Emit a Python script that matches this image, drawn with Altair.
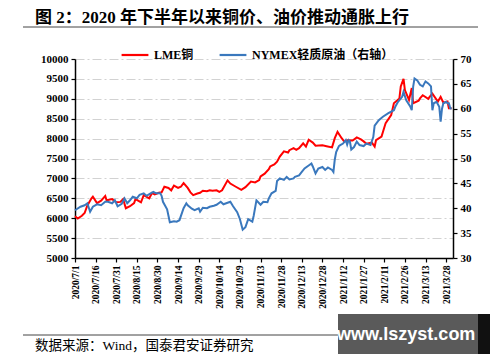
import altair as alt
import pandas as pd

# ---------------- data ----------------
copper_dates = [
    "2020-07-01", "2020-07-03", "2020-07-06", "2020-07-08", "2020-07-10", "2020-07-13", "2020-07-14",
    "2020-07-17", "2020-07-20", "2020-07-23", "2020-07-24", "2020-07-28", "2020-07-31", "2020-08-03",
    "2020-08-05", "2020-08-07", "2020-08-10", "2020-08-13", "2020-08-14", "2020-08-18", "2020-08-20",
    "2020-08-24", "2020-08-26", "2020-08-28", "2020-08-31", "2020-09-02", "2020-09-04", "2020-09-07",
    "2020-09-09", "2020-09-11", "2020-09-14", "2020-09-16", "2020-09-18", "2020-09-21", "2020-09-23",
    "2020-09-25", "2020-09-28", "2020-09-30", "2020-10-02", "2020-10-05", "2020-10-07", "2020-10-09",
    "2020-10-12", "2020-10-14", "2020-10-16", "2020-10-20", "2020-10-22", "2020-10-26", "2020-10-30",
    "2020-11-02", "2020-11-06", "2020-11-09", "2020-11-12", "2020-11-13", "2020-11-16", "2020-11-19",
    "2020-11-20", "2020-11-23", "2020-11-25", "2020-11-27", "2020-11-30", "2020-12-03", "2020-12-04",
    "2020-12-07", "2020-12-09", "2020-12-11", "2020-12-14", "2020-12-16", "2020-12-18", "2020-12-21",
    "2020-12-23", "2020-12-28", "2020-12-31", "2021-01-04", "2021-01-06", "2021-01-08", "2021-01-11",
    "2021-01-13", "2021-01-15", "2021-01-19", "2021-01-22", "2021-01-25", "2021-01-27", "2021-01-29",
    "2021-02-02", "2021-02-04", "2021-02-05", "2021-02-09", "2021-02-12", "2021-02-16", "2021-02-18",
    "2021-02-22", "2021-02-23", "2021-02-25", "2021-02-26", "2021-03-01", "2021-03-03", "2021-03-04",
    "2021-03-08", "2021-03-09", "2021-03-11", "2021-03-15", "2021-03-16", "2021-03-18", "2021-03-22",
    "2021-03-24", "2021-03-26", "2021-03-29", "2021-03-30", "2021-04-01",
]
copper_values = [
    6050, 5990, 6060, 6130, 6320, 6500, 6540,
    6380, 6440, 6560, 6450, 6480, 6400, 6410,
    6480, 6250, 6300, 6380, 6480, 6400, 6580,
    6500, 6630, 6600, 6640, 6650, 6790, 6760,
    6700, 6820, 6760, 6790, 6880, 6760, 6650,
    6580, 6620, 6640, 6690, 6680, 6700, 6690,
    6700, 6660, 6700, 6950, 6870, 6790, 6710,
    6780, 6920, 6900, 6960, 7050, 7120, 7230,
    7300, 7350, 7420, 7550, 7680, 7650, 7710,
    7760, 7720, 7760, 7880, 7800, 7970, 7900,
    7820, 7830, 7810, 7780, 8010, 8170, 8010,
    7920, 7960, 7950, 8030, 7980, 7930, 7870,
    7900, 7800, 7960, 8050, 8390, 8590, 8890,
    9010, 9310, 9500, 9220, 8970, 9270, 8890,
    8950, 9010, 9090, 9000, 9050, 9130, 8930,
    9050, 8900, 8930, 8760, 8760,
]

oil_dates = [
    "2020-07-01", "2020-07-05", "2020-07-08", "2020-07-10", "2020-07-12", "2020-07-14", "2020-07-17",
    "2020-07-20", "2020-07-23", "2020-07-25", "2020-07-28", "2020-07-30", "2020-08-01", "2020-08-04",
    "2020-08-06", "2020-08-08", "2020-08-10", "2020-08-12", "2020-08-15", "2020-08-17", "2020-08-20",
    "2020-08-22", "2020-08-25", "2020-08-27", "2020-08-29", "2020-09-01", "2020-09-02", "2020-09-03",
    "2020-09-06", "2020-09-08", "2020-09-11", "2020-09-13", "2020-09-15", "2020-09-18", "2020-09-20",
    "2020-09-21", "2020-09-24", "2020-09-26", "2020-09-29", "2020-09-30", "2020-10-02", "2020-10-05",
    "2020-10-07", "2020-10-10", "2020-10-12", "2020-10-15", "2020-10-17", "2020-10-19", "2020-10-22",
    "2020-10-24", "2020-10-27", "2020-10-29", "2020-10-31", "2020-11-02", "2020-11-04", "2020-11-07",
    "2020-11-08", "2020-11-10", "2020-11-13", "2020-11-15", "2020-11-18", "2020-11-19", "2020-11-21",
    "2020-11-24", "2020-11-25", "2020-11-27", "2020-11-30", "2020-12-02", "2020-12-04", "2020-12-07",
    "2020-12-08", "2020-12-11", "2020-12-13", "2020-12-15", "2020-12-18", "2020-12-20", "2020-12-21",
    "2020-12-23", "2020-12-25", "2020-12-28", "2020-12-30", "2021-01-01", "2021-01-04", "2021-01-05",
    "2021-01-06", "2021-01-07", "2021-01-09", "2021-01-10", "2021-01-12", "2021-01-14", "2021-01-15",
    "2021-01-16", "2021-01-17", "2021-01-18", "2021-01-20", "2021-01-22", "2021-01-24", "2021-01-27",
    "2021-01-29", "2021-02-01", "2021-02-03", "2021-02-04", "2021-02-07", "2021-02-10", "2021-02-14",
    "2021-02-18", "2021-02-19", "2021-02-21", "2021-02-24", "2021-02-25", "2021-02-27", "2021-03-02",
    "2021-03-03", "2021-03-04", "2021-03-05", "2021-03-07", "2021-03-09", "2021-03-11", "2021-03-13",
    "2021-03-15", "2021-03-17", "2021-03-18", "2021-03-19", "2021-03-21", "2021-03-23", "2021-03-24",
    "2021-03-25", "2021-03-26", "2021-03-28", "2021-03-29", "2021-03-30", "2021-03-31", "2021-04-01",
]
oil_values = [
    39.6, 40.3, 40.6, 41.0, 39.3, 40.3, 40.8,
    40.6, 41.3, 41.3, 41.0, 41.6, 40.4, 40.9,
    42.0, 41.0, 41.6, 42.3, 42.0, 42.7, 43.0,
    42.5, 43.0, 43.3, 43.0, 43.0, 42.5, 41.3,
    39.8, 37.2, 37.4, 37.3, 37.6, 40.0, 41.0,
    40.6, 39.9, 39.6, 40.0, 39.3, 40.1, 40.0,
    40.3, 40.5, 40.7, 41.3, 40.8, 41.0, 41.3,
    40.4, 39.2, 37.8, 35.7, 36.2, 37.8, 37.3,
    38.5, 41.6, 40.7, 41.3, 41.2, 42.0, 43.0,
    43.5, 45.5, 46.0, 45.7, 46.3, 45.8, 46.0,
    46.3, 46.6, 47.3, 48.0, 48.6, 49.0, 48.4,
    47.0, 48.0, 48.3, 47.7, 48.2, 47.7, 47.3,
    49.8, 51.3, 52.5, 52.7, 53.0, 53.7, 52.8,
    53.7, 53.4, 51.8, 52.3, 53.4, 52.7, 52.5,
    53.0, 52.7, 54.3, 56.6, 57.7, 58.4, 59.1,
    59.7, 60.4, 61.4, 62.4, 63.4, 61.7, 60.4,
    59.7, 64.4, 66.1, 65.7, 64.8, 64.5, 65.5,
    65.1, 64.5, 59.7, 61.1, 61.4, 60.4, 57.4,
    60.0, 61.1, 61.4, 61.1, 61.1, 60.1, 60.0,
]

tick_dates = [
    "2020-07-01", "2020-07-16", "2020-07-31", "2020-08-15", "2020-08-30", "2020-09-14", "2020-09-29",
    "2020-10-14", "2020-10-29", "2020-11-13", "2020-11-28", "2020-12-13", "2020-12-28", "2021-01-12",
    "2021-01-27", "2021-02-11", "2021-02-26", "2021-03-13", "2021-03-28",
]
x_domain = ["2020-07-01", "2021-04-02"]

series_names = ["LME铜", "NYMEX轻质原油（右轴）"]
series_colors = ["#ff0000", "#3a78bd"]

title_text = "图 2：2020 年下半年以来铜价、油价推动通胀上行"
source_text = "数据来源：Wind，国泰君安证券研究"
watermark_text = "www.lszyst.com"

# ---------------- chart ----------------
def dt(s):
    return alt.DateTime(year=int(s[:4]), month=int(s[5:7]), date=int(s[8:10]), utc=True)

SERIF = "Liberation Serif, Noto Sans CJK SC"

cu_df = pd.DataFrame({"date": copper_dates, "value": copper_values, "series": series_names[0]})
oil_df = pd.DataFrame({"date": oil_dates, "value": oil_values, "series": series_names[1]})

x_enc = alt.X(
    "date:T",
    scale=alt.Scale(type="utc", domain=[dt(s) for s in x_domain]),
    axis=alt.Axis(
        values=[dt(s) for s in tick_dates],
        format="%Y/%-m/%-d",
        labelAngle=270,
        labelFontSize=9.5,
        labelPadding=3,
        grid=False,
        title=None,
    ),
)

color_scale = alt.Scale(domain=series_names, range=series_colors)
legend = alt.Legend(
    orient="none",
    legendX=45,
    legendY=-19,
    direction="horizontal",
    title=None,
    symbolType="stroke",
    symbolSize=720,
    symbolStrokeWidth=2.2,
    labelFont=SERIF,
    labelFontWeight="bold",
    labelFontSize=12,
    labelColor="#000000",
    columnPadding=21,
    labelOffset=4,
)
color_enc = alt.Color("series:N", scale=color_scale, legend=legend, sort=series_names)

copper = alt.Chart(cu_df).mark_line(strokeWidth=2).encode(
    x=x_enc,
    y=alt.Y(
        "value:Q",
        scale=alt.Scale(domain=[5000, 10000], nice=False, zero=False),
        axis=alt.Axis(
            values=list(range(5000, 10001, 500)),
            format="d",
            orient="left",
            grid=True,
            gridColor="#d2d2d2",
            gridDash=[9, 3, 2, 3],
            gridWidth=1,
            title=None,
            labelFontSize=11,
        ),
    ),
    color=color_enc,
)

oil = alt.Chart(oil_df).mark_line(strokeWidth=2).encode(
    x=x_enc,
    y=alt.Y(
        "value:Q",
        scale=alt.Scale(domain=[30, 70], nice=False, zero=False),
        axis=alt.Axis(
            values=list(range(30, 71, 5)),
            format="d",
            orient="right",
            grid=False,
            title=None,
            labelFontSize=11,
        ),
    ),
    color=color_enc,
)

one = pd.DataFrame({"t": [0]})

title_mark = alt.Chart(pd.DataFrame({"t": [title_text]})).mark_text(
    align="left", baseline="alphabetic", font=SERIF, fontWeight="bold", fontSize=17, color="#000000"
).encode(x=alt.value(-40), y=alt.value(-36), text="t:N")

title_rule = alt.Chart(one).mark_rule(color="#444444", strokeWidth=1).encode(
    x=alt.value(-52), x2=alt.value(403), y=alt.value(-32)
)

source_rule = alt.Chart(one).mark_rule(color="#444444", strokeWidth=1).encode(
    x=alt.value(-52), x2=alt.value(403), y=alt.value(276)
)

source_mark = alt.Chart(pd.DataFrame({"t": [source_text]})).mark_text(
    align="left", baseline="alphabetic", font=SERIF, fontSize=13.5, color="#000000"
).encode(x=alt.value(-40), y=alt.value(291), text="t:N")

wm_box = alt.Chart(one).mark_rect(color="#5a5a5a").encode(
    x=alt.value(263), x2=alt.value(403), y=alt.value(255), y2=alt.value(299)
)
wm_strip = alt.Chart(one).mark_rect(color="#111111").encode(
    x=alt.value(403), x2=alt.value(415), y=alt.value(255), y2=alt.value(299)
)
wm_text = alt.Chart(pd.DataFrame({"t": [watermark_text]})).mark_text(
    align="left", baseline="alphabetic", font="Liberation Sans", fontWeight="bold", fontSize=18, color="#ffffff"
).encode(x=alt.value(262), y=alt.value(281), text="t:N")

chart = (
    alt.layer(copper, oil, title_mark, title_rule, source_rule, source_mark, wm_box, wm_strip, wm_text)
    .resolve_scale(y="independent")
    .properties(
        width=378,
        height=199,
        padding={"left": 67, "top": 51, "right": 39, "bottom": 96},
        autosize=alt.AutoSizeParams(type="none"),
        background="#ffffff",
    )
    .configure_view(stroke=None)
    .configure_axis(
        labelFont="Liberation Serif",
        labelFontWeight="bold",
        labelColor="#000000",
        domainColor="#000000",
        domainWidth=1.5,
        tickColor="#000000",
        tickSize=4,
        tickWidth=1.2,
        labelPadding=3,
    )
)

chart.save("out.html", embed_options={"renderer": "svg", "actions": False})
